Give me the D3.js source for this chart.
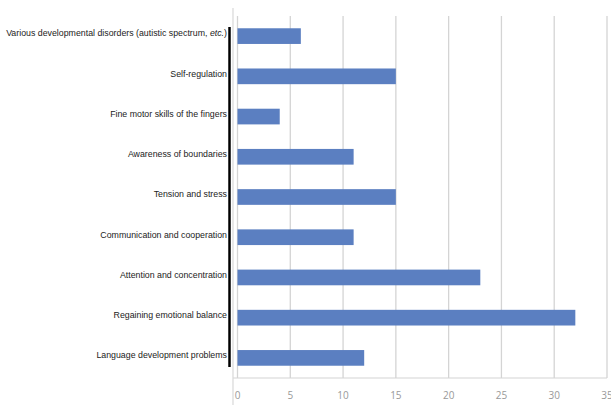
<!DOCTYPE html>
<html>
<head>
<meta charset="utf-8">
<script src="https://cdn.jsdelivr.net/npm/d3@7"></script>
<style>
  body { margin: 0; background: #fff; }
  svg { display: block; }
  .cat-label { font-family: "Liberation Sans", Arial, sans-serif; font-size: 8.8px; fill: #222; }
  .tick-label { font-family: "Open Sans", "Liberation Sans", sans-serif; font-size: 10px; fill: #999; }
</style>
</head>
<body>
<svg id="chart"></svg>
<script>
// categories, top to bottom
const categories = [
  'Various developmental disorders (autistic spectrum, etc.)',
  'Self-regulation',
  'Fine motor skills of the fingers',
  'Awareness of boundaries',
  'Tension and stress',
  'Communication and cooperation',
  'Attention and concentration',
  'Regaining emotional balance',
  'Language development problems'
];
const counts = [6, 15, 4, 11, 15, 11, 23, 32, 12];
const xTicks = [0, 5, 10, 15, 20, 25, 30, 35];

const config = {
  width: 611,
  height: 405,
  plotLeft: 237.5,
  plotRight: 607,
  plotTop: 16,
  plotBottom: 378
};

const data = categories.map((c, i) => ({ label: c, value: counts[i] }));

const svg = d3.select('#chart')
  .attr('width', config.width)
  .attr('height', config.height);

const xScale = d3.scaleLinear()
  .domain([0, 35])
  .range([config.plotLeft, config.plotRight]);

const yScale = d3.scaleBand()
  .domain(categories)
  .range([config.plotTop, config.plotBottom])
  .paddingInner(0.61)
  .paddingOuter(0.305);

// vertical gridlines
svg.selectAll('.grid')
  .data(xTicks)
  .join('line')
    .attr('class', 'grid')
    .attr('x1', d => xScale(d))
    .attr('x2', d => xScale(d))
    .attr('y1', config.plotTop)
    .attr('y2', config.plotBottom)
    .attr('stroke', '#d4d4d4')
    .attr('stroke-width', 1.3);

// bottom border of plot
svg.append('line')
  .attr('x1', 233).attr('x2', config.plotRight)
  .attr('y1', config.plotBottom).attr('y2', config.plotBottom)
  .attr('stroke', '#d4d4d4')
  .attr('stroke-width', 1.2);

// left light frame line
svg.append('line')
  .attr('x1', 233).attr('x2', 233)
  .attr('y1', 8).attr('y2', config.height)
  .attr('stroke', '#d8d8d8')
  .attr('stroke-width', 1.2);

// bars
svg.selectAll('.bar')
  .data(data)
  .join('rect')
    .attr('class', 'bar')
    .attr('x', xScale(0))
    .attr('y', d => yScale(d.label))
    .attr('width', d => xScale(d.value) - xScale(0))
    .attr('height', yScale.bandwidth())
    .attr('fill', '#5b7fc1');

// x tick labels (last one runs off the edge, as in the original)
svg.selectAll('.tick-label')
  .data(xTicks)
  .join('text')
    .attr('class', 'tick-label')
    .attr('x', d => xScale(d))
    .attr('y', 399)
    .attr('text-anchor', 'middle')
    .text(d => d);

// black axis line next to category labels
svg.append('line')
  .attr('x1', 229.5).attr('x2', 229.5)
  .attr('y1', 27).attr('y2', 367)
  .attr('stroke', '#000')
  .attr('stroke-width', 2.5);

// category labels
const labels = svg.selectAll('.cat-label')
  .data(data)
  .join('text')
    .attr('class', 'cat-label')
    .attr('x', 227)
    .attr('y', d => yScale(d.label) + yScale.bandwidth() / 2 - 2)
    .attr('text-anchor', 'end')
    .attr('dominant-baseline', 'middle');

labels.each(function(d) {
  const t = d3.select(this);
  if (d.label.includes('etc.')) {
    const parts = d.label.split('etc.');
    t.append('tspan').text(parts[0]);
    t.append('tspan').style('font-style', 'italic').text('etc.');
    t.append('tspan').text(parts[1]);
  } else {
    t.text(d.label);
  }
});
</script>
</body>
</html>
